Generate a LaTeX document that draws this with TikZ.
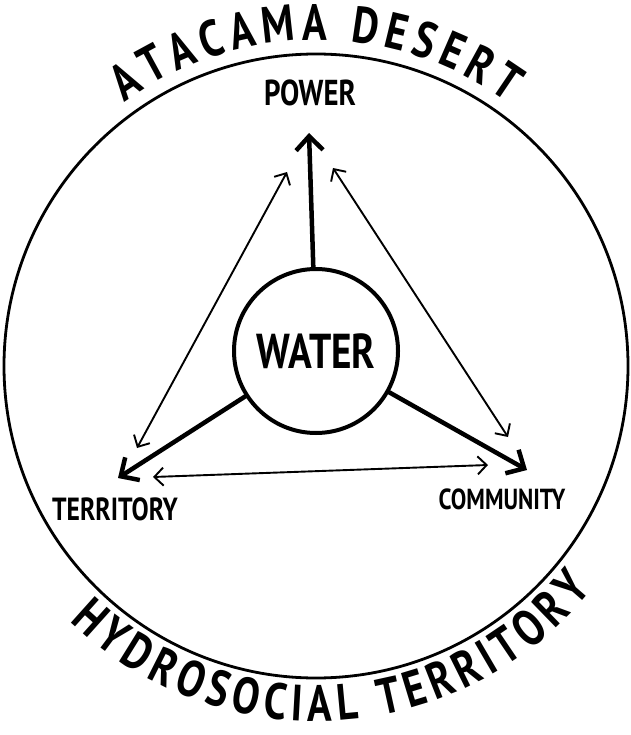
\documentclass[tikz,border=0pt]{standalone}
\usepackage{fontspec}
\newfontfamily\handfont[FakeStretch=0.8]{PT Sans}
\usetikzlibrary{arrows.meta, positioning, decorations.text}
\newcommand\arcfont{\handfont\bfseries\fontsize{51}{51}\selectfont}
\tikzset{
  handtext/.style={font=\handfont\bfseries\fontsize{#1}{#1}\selectfont, inner sep=0pt},
  arctext/.style={decorate, decoration={text along path, text align=fit to path, text={|\arcfont|#1}}},
  thickarrow/.style={line width=4.5pt, -{Straight Barb[length=14pt,width=27pt]}},
  thinarrow/.style={line width=1.9pt, {Straight Barb[length=9pt,width=18pt]}-{Straight Barb[length=9pt,width=18pt]}}
}

\begin{document}
\begin{tikzpicture}[x=1pt, y=1pt, line cap=round, line join=round]
  \useasboundingbox (0,0) rectangle (630,-735);

  % Outer circle and arched titles
  \coordinate (ctr) at (316,-366);
  \draw[line width=2.8pt] (ctr) circle [radius=312];
  \path[arctext={ATACAMA DESERT}]
    ([shift={(126:326)}]ctr) arc [start angle=126, end angle=54, radius=326];
  \path[arctext={HYDROSOCIAL TERRITORY}]
    ([shift={(226:355)}]ctr) arc [start angle=226, end angle=321, radius=355];

  % Nodes
  \node[circle, draw, line width=4pt, minimum size=164pt, handtext=49] (water) at (316,-351) {WATER};
  \node[handtext=36] (power) at (310,-93) {POWER};
  \node[handtext=32] (territory) at (115,-509) {TERRITORY};
  \node[handtext=29] (community) at (502,-499) {COMMUNITY};

  % Arrow ends
  \coordinate (powtip) at (309,-133);
  \coordinate (tertip) at (118,-478);
  \coordinate (comtip) at (527,-470);
  \coordinate (pw-l) at (287,-172);
  \coordinate (pw-r) at (333,-168);
  \coordinate (tr-u) at (137,-448);
  \coordinate (tr-r) at (153,-477);
  \coordinate (cm-u) at (508,-437);
  \coordinate (cm-l) at (488,-465);

  % Thick arrows out of water
  \draw[thickarrow] (water) -- (powtip);
  \draw[thickarrow] (water) -- (tertip);
  \draw[thickarrow] (water) -- (comtip);

  % Thin double arrows
  \draw[thinarrow] (pw-l) -- (tr-u);
  \draw[thinarrow] (pw-r) -- (cm-u);
  \draw[thinarrow] (tr-r) -- (cm-l);
\end{tikzpicture}
\end{document}
